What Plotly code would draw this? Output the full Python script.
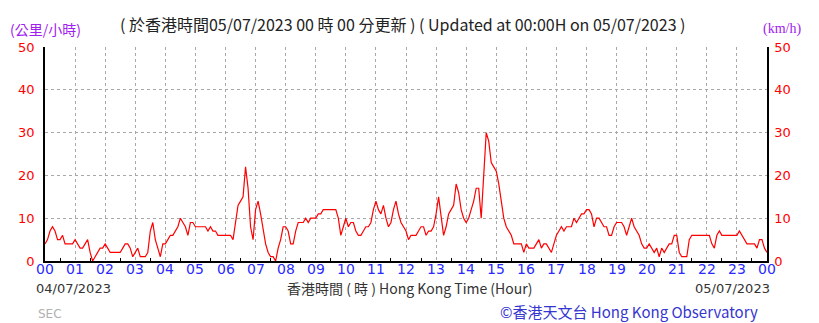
import plotly.graph_objects as go

# 5-minute wind speeds (km/h) from 00:00 04/07/2023 to 00:00 05/07/2023
h00 = [4, 5, 7, 8, 7, 5, 5, 6, 4, 4, 4, 4]
h01 = [5, 4, 3, 3, 4, 5, 2, 0, 1, 2, 3, 3]
h02 = [4, 3, 2, 2, 2, 2, 2, 3, 4, 4, 3, 1]
h03 = [2, 3, 1, 1, 1, 2, 7, 9, 5, 3, 1, 4]
h04 = [4, 5, 6, 6, 7, 8, 10, 9, 8, 6, 9, 9]
h05 = [8, 8, 8, 8, 8, 7, 8, 7, 7, 6, 6, 6]
h06 = [6, 6, 6, 5, 9, 13, 14, 15, 22, 17, 8, 5]
h07 = [12, 14, 11, 7, 4, 2, 1, 1, 0, 3, 5, 8]
h08 = [8, 7, 4, 4, 7, 9, 9, 9, 10, 9, 10, 10]
h09 = [10, 11, 11, 12, 12, 12, 12, 12, 12, 10, 6, 8]
h10 = [10, 8, 9, 9, 7, 6, 6, 7, 8, 8, 9, 12]
h11 = [14, 12, 11, 13, 10, 8, 9, 12, 14, 11, 9, 8]
h12 = [7, 5, 6, 6, 6, 7, 8, 8, 6, 7, 7, 8]
h13 = [11, 15, 11, 6, 8, 11, 12, 13, 18, 16, 12, 10]
h14 = [9, 10, 12, 14, 17, 17, 10, 20, 30, 28, 23, 22]
h15 = [21, 18, 14, 10, 8, 7, 6, 4, 4, 4, 4, 2]
h16 = [4, 3, 3, 3, 4, 5, 3, 4, 4, 3, 2, 4]
h17 = [6, 7, 8, 7, 8, 8, 8, 10, 9, 10, 11, 11]
h18 = [12, 12, 11, 8, 10, 10, 9, 8, 8, 6, 6, 8]
h19 = [9, 9, 9, 8, 6, 8, 10, 8, 7, 6, 4, 3]
h20 = [3, 4, 3, 2, 3, 1, 3, 2, 3, 4, 4, 6]
h21 = [6, 2, 1, 1, 1, 5, 6, 6, 6, 6, 6, 6]
h22 = [6, 6, 4, 3, 6, 7, 6, 6, 6, 6, 6, 6]
h23 = [6, 7, 6, 5, 4, 4, 4, 4, 3, 5, 5, 3]
end_value = [2]

speeds = (h00 + h01 + h02 + h03 + h04 + h05 + h06 + h07 + h08 + h09 + h10 + h11 +
          h12 + h13 + h14 + h15 + h16 + h17 + h18 + h19 + h20 + h21 + h22 + h23 + end_value)
hours = [i * 5 / 60 for i in range(len(speeds))]

hour_ticks = list(range(25))
hour_labels = [f"{h % 24:02d}" for h in hour_ticks]
y_ticks = [0, 10, 20, 30, 40, 50]

W, H = 819, 323
L, R, T, B = 45, 52, 47, 62
pw, ph = W - L - R, H - T - B


def px(x):
    return (x - L) / pw


def py(y):
    return (H - B - y) / ph


fig = go.Figure()
fig.add_trace(go.Scatter(x=hours, y=speeds, mode="lines",
                         line=dict(color="#ff0000", width=1.2), hoverinfo="skip",
                         showlegend=False))
fig.add_trace(go.Scatter(x=[0], y=[0], yaxis="y2", mode="markers",
                         marker=dict(opacity=0), showlegend=False, hoverinfo="skip"))

fig.update_layout(
    width=W, height=H,
    margin=dict(l=L, r=R, t=T, b=B),
    paper_bgcolor="white", plot_bgcolor="white",
    xaxis=dict(range=[0, 24], tickvals=hour_ticks, showticklabels=False,
               showgrid=True, gridcolor="#a8a8a8", griddash="dot", gridwidth=1,
               showline=True, linecolor="black", linewidth=2, zeroline=False,
               ticks="",
               minor=dict(tickvals=[h + 0.5 for h in range(24)], ticks="inside",
                          ticklen=3, tickcolor="black", showgrid=False)),
    yaxis=dict(range=[0, 50], tickvals=y_ticks,
               tickfont=dict(color="#ff0000", size=13, family="DejaVu Sans"),
               showgrid=True, gridcolor="#a8a8a8", griddash="dot", gridwidth=1,
               showline=True, linecolor="black", linewidth=1.5, zeroline=False,
               ticks="", ticklabelstandoff=6),
    yaxis2=dict(range=[0, 50], tickvals=y_ticks, overlaying="y", side="right",
                tickfont=dict(color="#ff0000", size=13, family="DejaVu Sans"),
                showgrid=False, showline=True, linecolor="black", linewidth=1.5,
                zeroline=False, ticks="", ticklabelstandoff=3),
)

ann = [
    dict(text="(公里/小時)", x=px(8), y=py(29), xanchor="left", yanchor="middle",
         font=dict(color="#a020f0", size=14, family="Noto Sans CJK TC")),
    dict(text="( 於香港時間05/07/2023 00 時 00 分更新 ) ( Updated at 00:00H on 05/07/2023 )",
         x=px(403), y=py(24), xanchor="center", yanchor="middle",
         font=dict(color="#222222", size=16, family="Noto Sans CJK TC")),
    dict(text="(km/h)", x=px(803), y=py(29), xanchor="right", yanchor="middle",
         font=dict(color="#a020f0", size=14, family="Liberation Serif")),
    dict(text="04/07/2023", x=px(34), y=py(288), xanchor="left", yanchor="middle",
         font=dict(color="#333333", size=13, family="DejaVu Sans")),
    dict(text="香港時間 ( 時 ) Hong Kong Time (Hour)", x=px(410), y=py(288),
         xanchor="center", yanchor="middle",
         font=dict(color="#333333", size=14, family="Noto Sans CJK TC")),
    dict(text="05/07/2023", x=px(772), y=py(288), xanchor="right", yanchor="middle",
         font=dict(color="#333333", size=13, family="DejaVu Sans")),
    dict(text="©香港天文台 Hong Kong Observatory", x=px(760), y=py(311),
         xanchor="right", yanchor="middle",
         font=dict(color="#3535d0", size=15, family="Noto Sans CJK TC")),
    dict(text="SEC", x=px(36), y=py(314), xanchor="left", yanchor="middle",
         font=dict(color="#b0b0b0", size=12, family="DejaVu Sans")),
]
for a in ann:
    a.update(xref="paper", yref="paper", showarrow=False)
for h, lab in zip(hour_ticks, hour_labels):
    ann.append(dict(text=lab, x=h, xref="x", y=py(269), yref="paper",
                    xanchor="center", yanchor="middle", showarrow=False,
                    font=dict(color="#2a2aff", size=14, family="DejaVu Sans")))
fig.update_layout(annotations=ann)

fig.write_html("out.html")
